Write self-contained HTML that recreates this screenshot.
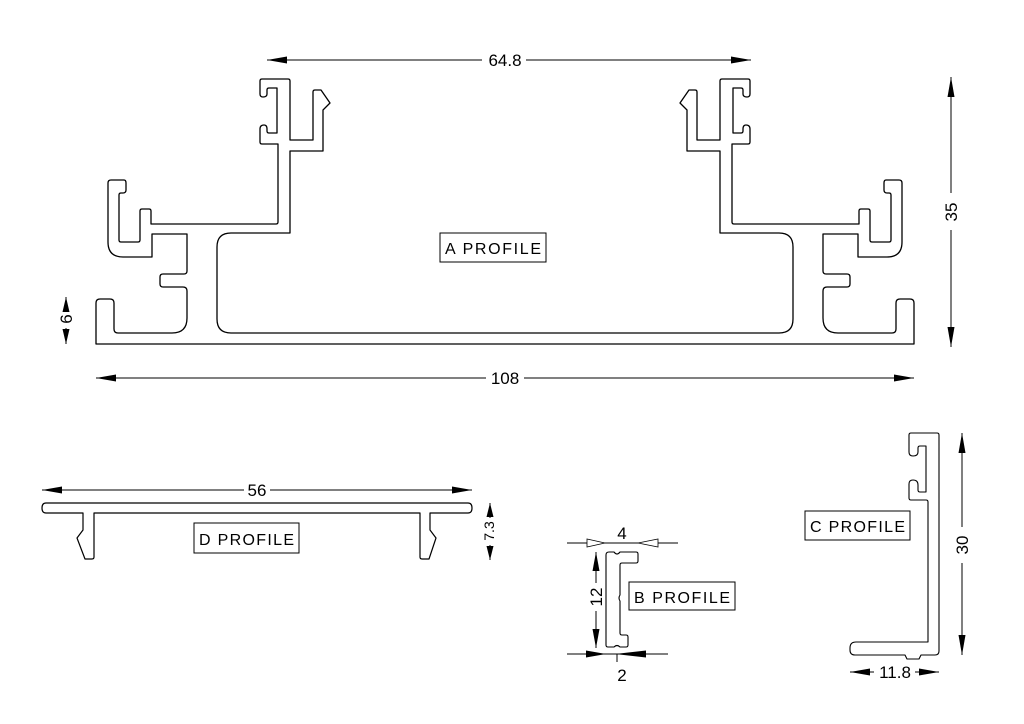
<!DOCTYPE html>
<html><head><meta charset="utf-8"><style>
html,body{margin:0;padding:0;background:#fff}
svg{display:block}
text{font-family:"Liberation Sans",sans-serif;fill:#000}
</style></head><body>
<svg width="1024" height="724" viewBox="0 0 1024 724" xmlns="http://www.w3.org/2000/svg">
<defs>
<g id="ahalf">
<path d="M505,344 L96,344 L96,303 Q96,299 100,299 L110,299 Q114,299 114,303 L114,329 Q114,333 118,333 L172,333 Q187,333 187,318 L187,291 Q187,287 183,287 L163,287 Q160,287 160,284 L160,277 Q160,274 163,274 L184,274 Q187,274 187,271 L187,234 L152,234 L152,257 L123,257 Q108,257 108,242 L108,183 Q108,180 111,180 L124,180 Q126,180 126,183 L126,190 Q126,193 123,193 L121,193 Q119,193 119,195 L119,240 Q119,242 121,242 L138,242 Q140,242 140,240 L140,211 Q140,209 142,209 L149,209 Q151,209 151,211 L151,224 L276,224 Q278,224 278,222 L278,144 L262,144 Q260,144 260,142 L260,129 Q260,125 264,125 Q267,125 267,129 L267,131 Q267,133 269,133 L277,133 L277,88 L269,88 Q267,88 267,90 L267,94 Q267,97 263,97 Q260,97 260,94 L260,81 Q260,79 262,79 L288,79 Q290,79 290,81 L290,140 L313,140 L313,92 Q313,90 315,90 L321,90 L330,103 L323,110 L323,151 L290,151 L290,233 L231,233 Q217,233 217,247 L217,319 Q217,333 231,333 L505,333" fill="none" stroke="#000" stroke-width="1.3" stroke-linejoin="round"/>
</g>
</defs>
<use href="#ahalf"/>
<use href="#ahalf" transform="translate(1010,0) scale(-1,1)"/>

<g stroke="#000" stroke-width="1" fill="none">
<line x1="267" y1="60" x2="482" y2="60"/><line x1="526" y1="60" x2="751" y2="60"/>
<line x1="96" y1="378" x2="486" y2="378"/><line x1="524" y1="378" x2="914" y2="378"/>
<line x1="951" y1="77" x2="951" y2="193"/><line x1="951" y1="230" x2="951" y2="347"/>
<line x1="66" y1="297" x2="66" y2="310"/><line x1="66" y1="328" x2="66" y2="344"/>
<line x1="42" y1="490" x2="244" y2="490"/><line x1="270" y1="490" x2="472" y2="490"/>
<line x1="490" y1="503" x2="490" y2="518"/><line x1="490" y1="545" x2="490" y2="560"/>
<line x1="567" y1="543" x2="678" y2="543"/>
<line x1="596" y1="552" x2="596" y2="583"/><line x1="596" y1="611" x2="596" y2="648"/>
<line x1="567" y1="654" x2="668" y2="654"/><line x1="617" y1="654" x2="617" y2="662"/>
<line x1="962" y1="433" x2="962" y2="527"/><line x1="962" y1="563" x2="962" y2="655"/>
<line x1="850" y1="672" x2="874" y2="672"/><line x1="915" y1="672" x2="939" y2="672"/>
</g>
<g fill="#000">
<polygon points="267,60 287,56.5 287,63.5"/><polygon points="751,60 731,56.5 731,63.5"/>
<polygon points="96,378 116,374.5 116,381.5"/><polygon points="914,378 894,374.5 894,381.5"/>
<polygon points="951,77 947.5,97 954.5,97"/><polygon points="951,347 947.5,327 954.5,327"/>
<polygon points="66,297 62.5,312 69.5,312"/><polygon points="66,344 62.5,329 69.5,329"/>
<polygon points="42,490 62,486.5 62,493.5"/><polygon points="472,490 452,486.5 452,493.5"/>
<polygon points="490,503 486.5,517 493.5,517"/><polygon points="490,560 486.5,546 493.5,546"/>
<polygon points="596,552 592.5,571 599.5,571"/><polygon points="596,648 592.5,629 599.5,629"/>
<polygon points="606,654 586,650.5 586,657.5"/><polygon points="615,654 646,650.5 646,657.5"/>
<polygon points="962,433 958.5,453 965.5,453"/><polygon points="962,655 958.5,635 965.5,635"/>
<polygon points="850,672 870,668.5 870,675.5"/><polygon points="939,672 919,668.5 919,675.5"/>
</g>
<g fill="#fff" stroke="#000" stroke-width="0.8">
<polygon points="605,543 587,539 587,547"/><polygon points="638,543 658,539 658,547"/>
</g>

<path d="M46,503 L468,503 Q472,503 472,508 Q472,513 468,513 L430,513 L430,530 L436,538 L429,559 L422,559 Q420,559 420,557 L420,513 L94,513 L94,557 Q94,559 92,559 L85,559 L77,538 L83,530 L83,513 L46,513 Q42,513 42,508 Q42,503 46,503 Z" fill="none" stroke="#000" stroke-width="1.2" stroke-linejoin="round"/>

<path d="M609,552 L614,552 Q617,556 620,552 L636,552 Q638,552 638,554 L638,561 Q638,563 636,563 L622,563 Q620,563 620,565 L620,595 Q618,598 620,601 L620,633 Q620,635 622,635 L626,635 Q628,635 628,637 L628,645 Q628,647 626,647 L620,647 Q617,644 614,647 L608,647 Q606,647 606,645 L606,555 Q606,552 609,552 Z" fill="none" stroke="#000" stroke-width="1.1" stroke-linejoin="round"/>

<path d="M911,433 L937,433 Q939,433 939,435 L939,651 Q939,655 935,655 L921,655 L919,659 L907,659 L905,655 L855,655 Q850,655 850,650 L850,648 Q850,642 856,642 L928,642 L928,502 Q928,500 926,500 L911,500 Q909,500 909,498 L909,484 Q909,480 913,480 Q918,480 918,485 L918,490 Q918,492 920,492 L926,492 L926,446 L920,446 Q918,446 918,448 L918,452 Q918,456 913,456 Q909,456 909,452 L909,435 Q909,433 911,433 Z" fill="none" stroke="#000" stroke-width="1.1" stroke-linejoin="round"/>

<g fill="none" stroke="#000" stroke-width="1">
<rect x="440" y="233" width="106" height="29"/>
<rect x="194" y="523" width="105" height="30"/>
<rect x="629" y="582" width="106" height="28"/>
<rect x="805" y="511" width="105" height="29"/>
</g>
<g font-size="16">
<text x="445" y="254" textLength="96">A  PROFILE</text>
<text x="199" y="545" textLength="95">D  PROFILE</text>
<text x="634" y="603" textLength="96">B  PROFILE</text>
<text x="810" y="532" textLength="95">C  PROFILE</text>
</g>
<g font-size="17" text-anchor="middle">
<text x="505" y="66">64.8</text>
<text x="505" y="384">108</text>
<text x="257" y="496">56</text>
<text x="622" y="539">4</text>
<text x="622" y="681">2</text>
<text x="895" y="678">11.8</text>
<text transform="translate(957,212) rotate(-90)">35</text>
<text transform="translate(72,319) rotate(-90)">6</text>
<text transform="translate(602,597) rotate(-90)">12</text>
<text transform="translate(968,545) rotate(-90)">30</text>
<text transform="translate(494,531) rotate(-90)" font-size="14">7.3</text>
</g>
</svg>
</body></html>
